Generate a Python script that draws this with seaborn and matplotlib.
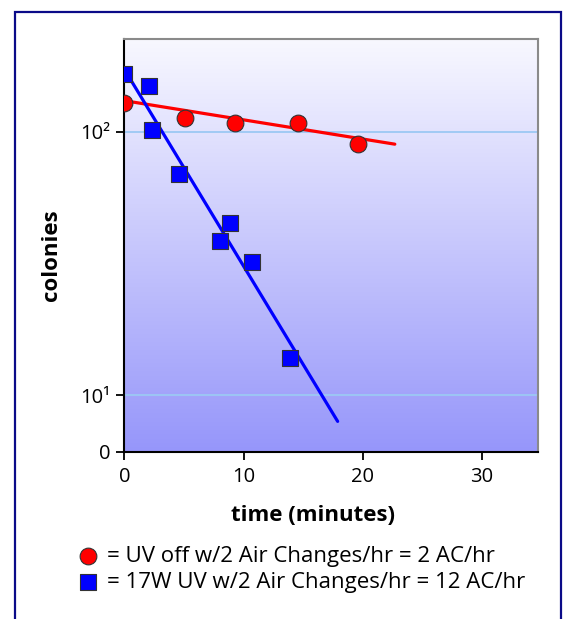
import numpy as np
import pandas as pd
import seaborn as sns
import matplotlib.pyplot as plt
from matplotlib.patches import Rectangle

# UV off, 2 air changes/hr
red_time = [0, 5.1, 9.3, 14.6, 19.6]
red_colonies = [128, 113, 108, 108, 90]
red_fit_time = [0, 22.7]
red_fit_colonies = [131, 89.6]

# 17W UV, 2 air changes/hr
blue_time = [0, 2.1, 2.3, 4.6, 8.0, 8.9, 10.7, 13.9]
blue_colonies = [165, 149, 101, 69, 38.4, 45, 32, 13.8]
blue_fit_time = [0, 17.9]
blue_fit_colonies = [172, 7.95]

red_label = "= UV off w/2 Air Changes/hr = 2 AC/hr"
blue_label = "= 17W UV w/2 Air Changes/hr = 12 AC/hr"

y_bottom, y_top = 6.1, 224
x_ticks = [0, 10, 20, 30]
y_ticks = [y_bottom, 10, 100]
y_tick_labels = ["0", "10¹", "10²"]

sns.set_style("ticks")
plt.rcParams['font.family'] = ['Open Sans', 'DejaVu Sans']
plt.rcParams.update({'text.color': 'black', 'axes.labelcolor': 'black',
                     'xtick.color': 'black', 'ytick.color': 'black'})

fig = plt.figure(figsize=(5.64, 6.19), dpi=100)
pos = [0.2207, 0.2703, 0.7327, 0.6662]

# gradient background behind the plot area
bg = fig.add_axes(pos, zorder=0)
top_c = np.array([248, 248, 255]) / 255
bot_c = np.array([150, 150, 250]) / 255
t = np.linspace(0, 1, 256)[:, None]
grad = (top_c * (1 - t) + bot_c * t)[:, None, :]
bg.imshow(grad, aspect='auto', extent=[0, 1, 0, 1], origin='upper')
bg.set_axis_off()

ax = fig.add_axes(pos, zorder=1)
ax.set_facecolor('none')
ax.set_yscale('log')

for yv in [10, 100]:
    ax.axhline(yv, color='#9cc8f4', lw=1.3, zorder=1)

red_df = pd.DataFrame({'time': red_time, 'colonies': red_colonies})
blue_df = pd.DataFrame({'time': blue_time, 'colonies': blue_colonies})

sns.lineplot(x=red_fit_time, y=red_fit_colonies, color='#ff0000', lw=2.3, ax=ax, zorder=2)
sns.lineplot(x=blue_fit_time, y=blue_fit_colonies, color='#0000ff', lw=2.3, ax=ax, zorder=2)
sns.scatterplot(data=red_df, x='time', y='colonies', marker='o', s=145, color='#ff0000',
                edgecolor='#333333', linewidth=0.8, ax=ax, zorder=3, label=red_label)
sns.scatterplot(data=blue_df, x='time', y='colonies', marker='s', s=135, color='#0000ff',
                edgecolor='#333333', linewidth=0.8, ax=ax, zorder=3, label=blue_label)

ax.set_xlim(0, 34.7)
ax.set_ylim(y_bottom, y_top)
ax.set_xticks(x_ticks)
ax.set_yticks(y_ticks)
ax.set_yticklabels(y_tick_labels)
ax.yaxis.set_minor_locator(plt.NullLocator())
ax.tick_params(axis='both', labelsize=14.5, length=6, width=1.3, color='black',
               labelcolor='black', pad=4)
ax.tick_params(axis='x', pad=5)

for side in ['left', 'bottom']:
    ax.spines[side].set_color('black')
    ax.spines[side].set_linewidth(1.5)
for side in ['top', 'right']:
    ax.spines[side].set_visible(True)
    ax.spines[side].set_color('#8a8a8a')
    ax.spines[side].set_linewidth(1.5)

ax.set_xlabel('time (minutes)', fontsize=16, fontweight='bold', color='black')
ax.set_ylabel('colonies', fontsize=16, fontweight='bold', color='black')
ax.xaxis.set_label_coords(0.456, -0.129)
ax.yaxis.set_label_coords(-0.151, 0.477)

leg = ax.legend(loc='center left', bbox_to_anchor=(0.139, 0.080), bbox_transform=fig.transFigure,
                frameon=False, fontsize=16, handlelength=0.9, handletextpad=0.4,
                borderpad=0, borderaxespad=0, labelspacing=0.25)
for txt in leg.get_texts():
    txt.set_color('black')

fig.patches.append(Rectangle((0.0266, -0.02), 0.968, 1.0006, transform=fig.transFigure,
                             fill=False, edgecolor='#0a0a88', lw=1.6, zorder=5))

plt.savefig('out.png', dpi=100)
